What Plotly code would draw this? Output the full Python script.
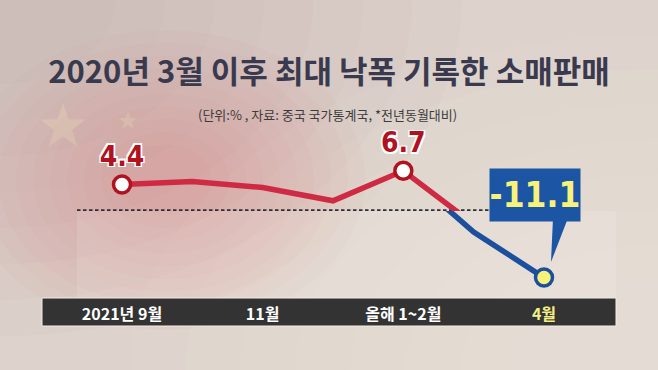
import math
import plotly.graph_objects as go

# ---- data ----
months = ["2021-09", "2021-10", "2021-11", "2021-12", "2022-01~02", "2022-03", "2022-04"]
values = [4.4, 4.9, 3.9, 1.7, 6.7, -3.5, -11.1]
tick_months = ["2021-09", "2021-11", "2022-01~02", "2022-04"]
tick_labels = ["2021년 9월", "11월", "올해 1~2월", "<span style='color:#f4ef86'>4월</span>"]
labeled_idx = [0, 4]          # red labelled points
last_idx = 6                  # highlighted point

title_text = "2020년 3월 이후 최대 낙폭 기록한 소매판매"
subtitle_text = "(단위:% , 자료: 중국 국가통계국, *전년동월대비)"

# ---- layout geometry (pixels) ----
W, H = 658, 370
L, R, T, B = 42, 42, 130, 72
PW, PH = W - L - R, H - T - B
ZERO_PX = 211
SCALE = 6.0   # px per unit
z = (T + PH - ZERO_PX) / PH
red_top = (ZERO_PX - T) / SCALE
blue_bot = -(T + PH - ZERO_PX) / SCALE
u = (544 - 122) / 6
xr = [-(122 - L) / u, 6 + (W - R - 544) / u]

def px(xp):
    return (xp - L) / PW

def py(yp):
    return (T + PH - yp) / PH

RED = "#cf2a43"
RED_DARK = "#b0121f"
BLUE = "#1c4f9c"
BOX = "#1c55a3"
YEL = "#f6f27c"
BG = "#ddd2cc"
NUMFONT = "DejaVu Sans Condensed, Liberation Sans Narrow, Roboto, sans-serif"
KFONT = "Noto Sans CJK KR, Noto Sans, sans-serif"

fig = go.Figure()

fig.add_trace(go.Scatter(x=months, y=values, mode="lines", yaxis="y",
                         line=dict(color=RED, width=5.5), hoverinfo="skip"))
fig.add_trace(go.Scatter(x=months, y=values, mode="lines", yaxis="y2",
                         line=dict(color=BLUE, width=5.5), hoverinfo="skip"))
fig.add_trace(go.Scatter(
    x=[months[i] for i in labeled_idx], y=[values[i] for i in labeled_idx],
    mode="markers+text", yaxis="y", cliponaxis=False,
    text=[f"{values[i]:.1f}" for i in labeled_idx], textposition="top center",
    textfont=dict(family=NUMFONT, size=28, color=RED_DARK, weight=700,
                  shadow="1.5px 1.5px 0 #fff, -1.5px -1.5px 0 #fff, 1.5px -1.5px 0 #fff, -1.5px 1.5px 0 #fff"),
    marker=dict(size=17, color="white", line=dict(color=RED_DARK, width=3.5)),
    hoverinfo="skip"))
fig.add_trace(go.Scatter(
    x=[months[last_idx]], y=[values[last_idx]], mode="markers", yaxis="y2",
    cliponaxis=False,
    marker=dict(size=17, color=YEL, line=dict(color=BLUE, width=3.5)),
    hoverinfo="skip"))

shapes = []

def ellipse(cx, cy, rx, ry, color, op):
    return dict(type="circle", xref="paper", yref="paper", layer="below",
                x0=px(cx - rx), x1=px(cx + rx), y0=py(cy + ry), y1=py(cy - ry),
                fillcolor=color, opacity=op, line=dict(width=0))

# darker grey-pink towards top-left corner
for k in range(8):
    r = 420 - k * 45
    shapes.append(ellipse(0, 0, r * 1.1, r * 0.8, "#9c8c8a", 0.035))
# lighter cream towards bottom-right corner
for k in range(8):
    r = 480 - k * 50
    shapes.append(ellipse(W, H, r * 1.1, r * 0.7, "#f6efe6", 0.07))
# soft reddish glow on the left (flag backdrop)
for k in range(10):
    r = 200 - k * 17
    shapes.append(ellipse(165, 180, r, r * 0.75, "#d4505a", 0.033))

def star(cx, cy, r):
    pts = []
    for k in range(10):
        ang = -math.pi / 2 + k * math.pi / 5
        rr = r if k % 2 == 0 else r * 0.4
        pts.append((px(cx + rr * math.cos(ang)), py(cy + rr * math.sin(ang))))
    return "M " + " L ".join(f"{a},{b}" for a, b in pts) + " Z"

for cx, cy, r in [(63, 127, 24), (128, 121, 10)]:
    shapes.append(dict(type="path", xref="paper", yref="paper", layer="below",
                       path=star(cx, cy, r), fillcolor="#efe2b8", opacity=0.25,
                       line=dict(width=0)))
# lighter panel under zero line
shapes.append(dict(type="rect", xref="paper", yref="paper", layer="below",
                   x0=px(77), x1=1, y0=0, y1=z,
                   fillcolor="white", opacity=0.12, line=dict(width=0)))
# bottom dark bar
shapes.append(dict(type="rect", xref="paper", yref="paper", layer="below",
                   x0=0, x1=1, y0=py(326), y1=py(298),
                   fillcolor="#333333", line=dict(color="#f3ece6", width=1)))
# dotted zero line
shapes.append(dict(type="line", xref="paper", yref="y", layer="below",
                   x0=px(77), x1=px(489), y0=0, y1=0,
                   line=dict(color="#2f2d3a", width=3.5, dash="3.5px,2.5px")))
# callout pointer (tapered)
shapes.append(dict(type="path", xref="paper", yref="paper", layer="above",
                   path=f"M {px(553)},{py(218)} L {px(568)},{py(218)} L {px(551)},{py(262)} Z",
                   fillcolor=BOX, line=dict(width=0)))

annotations = [
    dict(text=subtitle_text, xref="paper", yref="paper", x=px(327), y=py(103),
         showarrow=False, font=dict(family=KFONT, size=13, color="#3c3c3c")),
    dict(text="-11.1", x=months[last_idx], y=values[last_idx], yref="y2",
         ax=-9, ay=-83, showarrow=True, arrowhead=0, arrowwidth=0.1,
         arrowcolor="rgba(0,0,0,0)", width=88, height=50,
         bgcolor=BOX, font=dict(family=NUMFONT, size=35, color=YEL, weight=700)),
]

fig.update_layout(
    width=W, height=H,
    margin=dict(l=L, r=R, t=T, b=B),
    paper_bgcolor=BG, plot_bgcolor="rgba(0,0,0,0)",
    showlegend=False,
    title=dict(text=title_text, x=0.5, xref="paper", xanchor="center",
               y=1 - 72 / H, yref="container", yanchor="middle",
               font=dict(family=KFONT, size=31, color="#3a3a4f", weight=700)),
    xaxis=dict(type="category", categoryorder="array", categoryarray=months,
               range=xr, anchor="y2", showgrid=False, zeroline=False, showline=False,
               tickmode="array", tickvals=tick_months, ticktext=tick_labels,
               ticks="", ticklabelstandoff=5,
               tickfont=dict(family=KFONT, size=16, color="white", weight=700)),
    yaxis=dict(domain=[z, 1], range=[0, red_top], visible=False),
    yaxis2=dict(domain=[0, z], range=[blue_bot, 0], visible=False),
    shapes=shapes,
    annotations=annotations,
)

fig.write_html("out.html", config={"displayModeBar": False},
               post_script="document.body.style.margin='0';document.body.style.background='#ddd2cc';")
